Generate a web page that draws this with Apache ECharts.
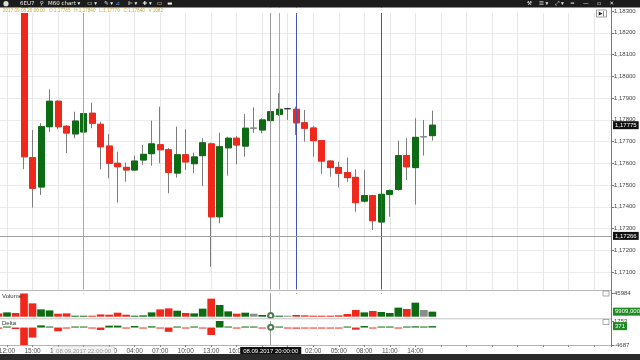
<!DOCTYPE html>
<html><head><meta charset="utf-8">
<script src="https://cdn.jsdelivr.net/npm/echarts@6/dist/echarts.min.js"></script>
<style>html,body{margin:0;padding:0;background:#fff}#c{width:640px;height:360px}</style>
</head><body><div id="c"></div>
<script>
// hourly time labels, from 3 bars before the first visible candle
const timeLabels = ['11:00','12:00','13:00','14:00','15:00','16:00','17:00','18:00','19:00','20:00','21:00','22:00',
 '00:00','01:00','02:00','03:00','04:00','05:00','06:00','07:00','08:00','09:00','10:00','11:00','12:00','13:00','14:00','15:00','16:00','17:00','18:00','19:00','20:00','21:00','22:00',
 '00:00','01:00','02:00','03:00','04:00','05:00','06:00','07:00','08:00','09:00','10:00','11:00','12:00','13:00','14:00','15:00','16:00'];
const futureSlots = 21;
const hiddenBars = 3;              // bars whose candles are above the visible price range
const hiddenSides = [-1, 1, -1];   // their direction (for volume colours)
// candles: [open, close, low, high]
const candles = [
 [1.18350,1.17630,1.17573,1.18380],[1.17626,1.17485,1.17396,1.17753],[1.17491,1.17768,1.17454,1.17784],
 [1.17768,1.17885,1.17744,1.17940],[1.17885,1.17768,1.17756,1.17890],[1.17770,1.17739,1.17646,1.17776],
 [1.17735,1.17794,1.17715,1.17837],[1.17744,1.17828,1.17707,1.17868],[1.17830,1.17784,1.17761,1.17878],
 [1.17779,1.17676,1.17572,1.17791],[1.17679,1.17600,1.17531,1.17734],[1.17600,1.17584,1.17419,1.17653],
 [1.17581,1.17569,1.17515,1.17603],[1.17569,1.17610,1.17565,1.17635],[1.17615,1.17641,1.17592,1.17684],
 [1.17644,1.17689,1.17589,1.17796],[1.17685,1.17662,1.17600,1.17860],[1.17662,1.17558,1.17462,1.17670],
 [1.17555,1.17639,1.17534,1.17768],[1.17639,1.17606,1.17569,1.17756],[1.17598,1.17629,1.17554,1.17649],
 [1.17635,1.17694,1.17495,1.17715],[1.17689,1.17354,1.17124,1.17695],[1.17354,1.17676,1.17324,1.17740],
 [1.17671,1.17715,1.17543,1.17722],[1.17715,1.17684,1.17595,1.17725],[1.17679,1.17761,1.17630,1.17826],
 [1.17761,1.17761,1.17740,1.17857],[1.17753,1.17799,1.17738,1.17807],[1.17796,1.17837,1.17776,1.17845],
 [1.17825,1.17848,1.17817,1.17922],[1.17851,1.17851,1.17799,1.17855],[1.17848,1.17786,1.17730,1.17860],
 [1.17786,1.17761,1.17699,1.17845],[1.17762,1.17704,1.17630,1.17770],[1.17704,1.17610,1.17551,1.17706],
 [1.17610,1.17580,1.17538,1.17614],[1.17581,1.17554,1.17489,1.17607],[1.17557,1.17534,1.17515,1.17626],
 [1.17535,1.17419,1.17377,1.17572],[1.17426,1.17451,1.17419,1.17569],[1.17451,1.17336,1.17293,1.17455],
 [1.17330,1.17457,1.17308,1.17477],[1.17457,1.17474,1.17354,1.17480],[1.17480,1.17635,1.17474,1.17704],
 [1.17635,1.17584,1.17523,1.17715],[1.17580,1.17719,1.17410,1.17807],[1.17722,1.17722,1.17635,1.17799],
 [1.17727,1.17775,1.17704,1.17842]
];
const volumes = [6500,8500,7300,45984,26200,14400,12400,5900,6500,1400,1400,1400,4500,3900,7900,3900,1400,2600,8500,
 14400,16400,11800,7300,6500,15800,35500,23000,10500,5900,7900,5900,3400,2600,1400,600,3400,2600,2000,2000,2000,2600,
 5300,13200,8500,11200,9300,7300,17800,15200,27600,13200,9909];
const deltas = [-300,100,-400,-4687,-2700,580,250,-1000,-200,150,100,-150,-660,500,500,-100,400,-100,330,-80,-1150,100,
 -150,100,-100,-2000,1753,100,-100,150,60,-60,100,50,-50,-300,-200,-50,-200,-50,-100,150,-580,400,-150,200,50,-250,150,
 330,60,371];
const priceTicks = {min:1.170, max:1.1835, step:0.001};
const lastPrice = 1.17775;
const crossPrice = 1.17266;
const crossBar = 29;          // candle index under the crosshair
const greyLineBars = [7, 30];
const navyLineBars = [32, 42];
const crossTimeText = '08.09.2017 20:00:00';
const markTimeText = '08.09.2017 22:00:00';
const infoText = '2017.09.08 20:00:00   O:1,17785   H:1,17840   L:1,17770   C:1,17840   V:1082';

const RED = '#f0281c', GREEN = '#0d6b13', WICK = '#7d7d7d', GREY = '#8c8c8c', NAVY = '#4356b8';
const dojiShade = {27: GREY, 31: '#3a3a3a', 47: GREY};
const FONT = 'Liberation Sans';
const NONE = 'rgba(0,0,0,0)';
const categories = timeLabels.concat(new Array(futureSlots).fill(''));
const k = i => i + hiddenBars;
const blank = () => new Array(hiddenBars).fill(['-','-','-','-']);

const wickData = blank().concat(candles);
const bodyData = blank().concat(candles.map((c, i) => {
  const v = [c[0], c[1], Math.min(c[0], c[1]), Math.max(c[0], c[1])];
  if (dojiShade[i]) return {value: v, itemStyle: {color: dojiShade[i], color0: dojiShade[i], borderColor: dojiShade[i], borderColor0: dojiShade[i]}};
  return v;
}));
const sideColor = c => c[1] > c[0] ? GREEN : c[1] < c[0] ? RED : GREY;
const volColors = hiddenSides.map(s => s > 0 ? GREEN : RED).concat(candles.map(sideColor));
const volData = volumes.map((v, j) => ({value: v, itemStyle: {color: volColors[j]}}));
const deltaData = deltas.map(v => ({value: v, itemStyle: {color: v >= 0 ? GREEN : RED}}));

const L = -1.5, R = 29;
const labelIdx = (idx) => idx % 3 === 1;
const baseX = (gi, extra) => Object.assign({
  type: 'category', gridIndex: gi, data: categories, boundaryGap: false,
  axisLine: {show: false}, axisTick: {show: false}, axisLabel: {show: false}, splitLine: {show: false}
}, extra || {});
const fmtPrice = v => v.toFixed(5).replace('.', ',');
const tagLabel = (bg, txt) => ({show: true, position: 'end', distance: 2, formatter: txt, backgroundColor: bg, color: '#fff',
  fontSize: 6, fontFamily: FONT, padding: [1, 2, 1, 2]});
const vline = (bar, color) => ({xAxis: k(bar), lineStyle: {color: color, width: 1, type: 'solid'}, label: {show: false}});
const helper = (gi, data) => ({type: 'line', xAxisIndex: gi, yAxisIndex: gi, data: [], silent: true, z: 5,
  markLine: {silent: true, precision: 6, symbol: ['none', 'none'], animation: false, data: data}});
const gridBase = {left: L, right: R, outerBoundsMode: 'none', containLabel: false};

const chart = echarts.init(document.getElementById('c'), null, {renderer: 'canvas'});
chart.setOption({
  animation: false,
  backgroundColor: '#fff',
  grid: [
    Object.assign({top: 0.125, bottom: 66.25}, gridBase),
    Object.assign({top: 293.3, bottom: 43.3}, gridBase),
    Object.assign({top: 321, bottom: 15}, gridBase)
  ],
  xAxis: [
    baseX(0, {splitLine: {show: true, interval: labelIdx, lineStyle: {color: '#e6e6e6', width: 1}}}),
    baseX(1),
    baseX(2, {
      axisLine: {show: true, onZero: false, lineStyle: {color: '#b5b5b5'}},
      axisTick: {show: true, interval: labelIdx, length: 2, lineStyle: {color: '#888'}},
      axisLabel: {show: true, interval: labelIdx, fontSize: 6.5, color: '#555', fontFamily: FONT, margin: 3}
    })
  ],
  yAxis: [
    {type: 'value', gridIndex: 0, position: 'right', min: priceTicks.min, max: priceTicks.max, interval: priceTicks.step,
     axisLine: {show: false}, axisTick: {show: true, length: 3, lineStyle: {color: '#7a7a7a'}},
     axisLabel: {fontSize: 6, color: '#444', fontFamily: FONT, margin: 3, formatter: fmtPrice, showMinLabel: false, showMaxLabel: false},
     splitLine: {show: true, showMinLine: false, showMaxLine: false, lineStyle: {color: '#ebebeb'}}},
    {type: 'value', gridIndex: 1, position: 'right', min: 0, max: 45984, interval: 45984,
     axisLine: {show: false}, axisTick: {show: true, length: 3, lineStyle: {color: '#7a7a7a'}},
     axisLabel: {fontSize: 6, color: '#444', fontFamily: FONT, margin: 3, showMinLabel: false, showMaxLabel: true,
                 formatter: v => String(v)}, splitLine: {show: false}},
    {type: 'value', gridIndex: 2, position: 'right', min: -4687, max: 1753, interval: 6440,
     axisLine: {show: false}, axisTick: {show: true, length: 3, lineStyle: {color: '#7a7a7a'}},
     axisLabel: {fontSize: 6, color: '#444', fontFamily: FONT, margin: 3, showMinLabel: true, showMaxLabel: true,
                 formatter: v => String(v)}, splitLine: {show: false}}
  ],
  series: [
    {type: 'candlestick', xAxisIndex: 0, yAxisIndex: 0, data: wickData, barWidth: 6.5, clip: true,
     itemStyle: {color: WICK, color0: WICK, borderColor: WICK, borderColor0: WICK, borderWidth: 1}},
    {type: 'candlestick', xAxisIndex: 0, yAxisIndex: 0, data: bodyData, barWidth: 6.5, clip: true, z: 3,
     itemStyle: {color: GREEN, color0: RED, borderColor: GREEN, borderColor0: RED, borderWidth: 1}},
    helper(0, greyLineBars.map(b => vline(b, '#a9a9a9')).concat(navyLineBars.map(b => vline(b, NAVY)), [
      vline(crossBar, '#9a9a9a'),
      {yAxis: lastPrice, lineStyle: {color: NONE, width: 0}, label: tagLabel('#111', fmtPrice(lastPrice))},
      {yAxis: crossPrice, lineStyle: {color: '#a0a0a0', width: 1, type: 'solid'}, label: tagLabel('#111', fmtPrice(crossPrice))}
    ])),
    {type: 'bar', xAxisIndex: 1, yAxisIndex: 1, data: volData, barWidth: '90%', barMinHeight: 1,
     markLine: {silent: true, symbol: ['none', 'none'], animation: false, data: [vline(crossBar, '#9a9a9a')]},
     markPoint: {silent: true, symbol: 'emptyCircle', symbolSize: 5, itemStyle: {color: '#4f7d4f', borderWidth: 1},
       label: {show: false}, data: [{coord: [k(crossBar), volumes[k(crossBar)]]}]}},
    helper(1, [
      {yAxis: volumes[volumes.length - 1], lineStyle: {color: NONE, width: 0}, label: tagLabel('#1f8a22', volumes[volumes.length - 1] + ',000')}
    ]),
    {type: 'bar', xAxisIndex: 2, yAxisIndex: 2, data: deltaData, barWidth: '90%', barMinHeight: 1,
     markLine: {silent: true, symbol: ['none', 'none'], animation: false,
       data: [
         {xAxis: k(crossBar), lineStyle: {color: '#9a9a9a', width: 1, type: 'solid'},
          label: {show: true, position: 'start', distance: 2, formatter: crossTimeText, backgroundColor: '#111', color: '#fff',
                  fontSize: 6, fontFamily: FONT, padding: [1, 3, 1, 3]}},
         {xAxis: k(greyLineBars[0]), lineStyle: {color: NONE, width: 0},
          label: {show: true, position: 'start', distance: 2, formatter: markTimeText, backgroundColor: '#f2f2f2', color: '#999',
                  borderColor: '#c8c8c8', borderWidth: 0.5, fontSize: 6, fontFamily: FONT, padding: [1, 3, 1, 3]}}
       ]},
     markPoint: {silent: true, symbol: 'emptyCircle', symbolSize: 5, itemStyle: {color: '#4f7d4f', borderWidth: 1},
       label: {show: false}, data: [{coord: [k(crossBar), deltas[k(crossBar)]]}]}},
    helper(2, [
      {yAxis: deltas[deltas.length - 1], lineStyle: {color: NONE, width: 0}, label: tagLabel('#1f8a22', String(deltas[deltas.length - 1]))}
    ])
  ],
  graphic: {elements: [
    {type: 'rect', z: 50, shape: {x: 0, y: 7.5, width: 610.5, height: 5.5}, style: {fill: '#fff'}},
    {type: 'text', z: 51, x: 3, y: 10.3, style: {text: infoText, fill: '#c9a640', font: '4.6px "Liberation Sans"', verticalAlign: 'middle'}},
    {type: 'rect', z: 50, shape: {x: 0, y: 289.6, width: 610.5, height: 3.6}, style: {fill: '#fff'}},
    {type: 'line', z: 52, shape: {x1: 0, y1: 290.5, x2: 611, y2: 290.5}, style: {stroke: '#b9b9b9', lineWidth: 1}},
    {type: 'line', z: 52, shape: {x1: 0, y1: 318.8, x2: 611, y2: 318.8}, style: {stroke: '#c4c4c4', lineWidth: 1}},
    {type: 'line', z: 52, shape: {x1: 611.5, y1: 7, x2: 611.5, y2: 347}, style: {stroke: '#7a7a7a', lineWidth: 1}},
    {type: 'text', z: 52, x: 2, y: 296, style: {text: 'Volume', fill: '#333', font: '6px "Liberation Sans"', verticalAlign: 'middle'}},
    {type: 'text', z: 52, x: 2, y: 323.5, style: {text: 'Delta', fill: '#333', font: '6px "Liberation Sans"', verticalAlign: 'middle'}},
    {type: 'rect', z: 52, shape: {x: 603, y: 291, width: 6, height: 5}, style: {fill: '#fff', stroke: '#888', lineWidth: 0.7}},
    {type: 'rect', z: 52, shape: {x: 603, y: 319.5, width: 6, height: 5}, style: {fill: '#fff', stroke: '#888', lineWidth: 0.7}},
    {type: 'rect', z: 52, shape: {x: 596.5, y: 10, width: 10, height: 7}, style: {fill: '#fff', stroke: '#777', lineWidth: 0.7}},
    {type: 'text', z: 53, x: 601.5, y: 13.6, style: {text: '▶|', fill: '#222', font: 'bold 5px "DejaVu Sans"', align: 'center', verticalAlign: 'middle'}},
    {type: 'rect', z: 60, shape: {x: 0, y: 0, width: 640, height: 7.5}, style: {fill: '#1c1c1c'}},
    {type: 'circle', z: 61, shape: {cx: 6, cy: 3.7, r: 2.6}, style: {fill: '#ddd'}},
    {type: 'text', z: 61, x: 20, y: 3.9, style: {text: '6EU7   ⚲', fill: '#eee', font: '5.5px "DejaVu Sans"', verticalAlign: 'middle'}},
    {type: 'text', z: 61, x: 48, y: 3.9, style: {text: 'M60 chart ▾    ▭ ▾    ✎ ▾    ', fill: '#eee', font: '5.5px "DejaVu Sans"', verticalAlign: 'middle'}},
    {type: 'text', z: 61, x: 115, y: 3.9, style: {text: '⊿', fill: '#5a8fd8', font: '6px "DejaVu Sans"', verticalAlign: 'middle'}},
    {type: 'text', z: 61, x: 128, y: 3.9, style: {text: '⊫ ▾   ✚ ▾   ▭   ▬', fill: '#eee', font: '5.5px "DejaVu Sans"', verticalAlign: 'middle'}},
    {type: 'text', z: 61, x: 527, y: 3.9, style: {text: '⚒    ☰ ▾    ⤢ ▾    ━     —     ▫     ✕', fill: '#eee', font: '5.5px "DejaVu Sans"', verticalAlign: 'middle'}},
    {type: 'rect', z: 60, shape: {x: 0, y: 354, width: 640, height: 6}, style: {fill: '#2a2a2a'}}
  ]}
});
</script></body></html>
